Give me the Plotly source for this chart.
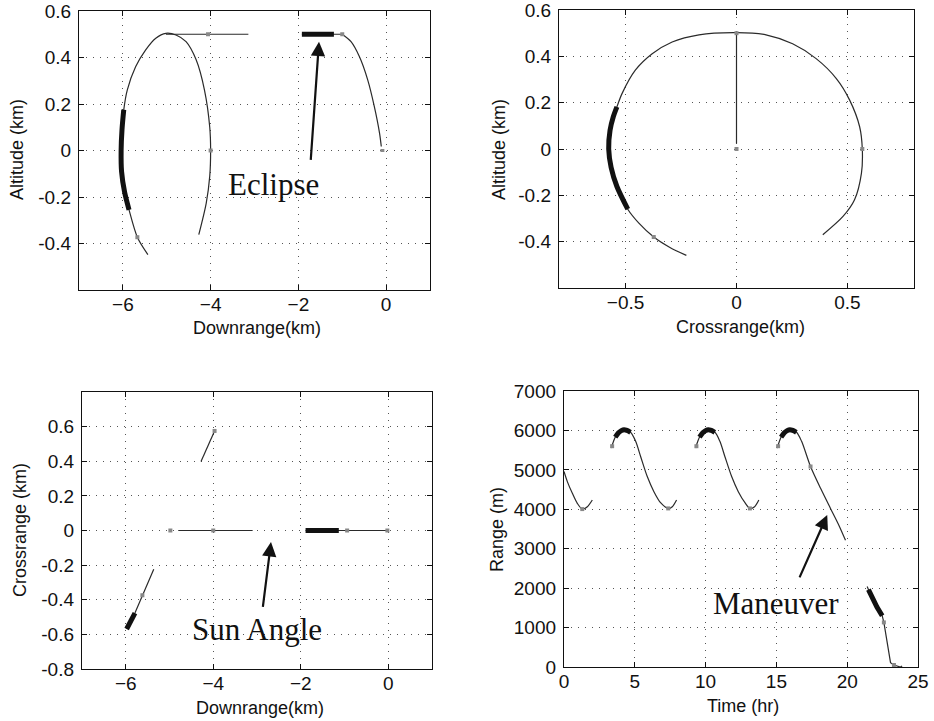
import plotly.graph_objects as go

# ---------------- data ----------------
# Panel 1: Downrange vs Altitude (km)
p1_ellipse_x = [-5.43, -5.67, -5.86, -5.96, -6.03, -6.04, -6.02, -5.98, -5.90, -5.71, -5.48, -5.25,
                -5.02, -4.79, -4.56, -4.33, -4.14, -4.02, -4.00, -4.02, -4.10, -4.27]
p1_ellipse_y = [-0.448, -0.373, -0.255, -0.18, -0.09, 0.0, 0.09, 0.175, 0.26, 0.36, 0.433, 0.483,
                0.504, 0.497, 0.468, 0.39, 0.26, 0.10, 0.0, -0.11, -0.226, -0.362]
p1_ellipse_thick_x = [-5.98, -6.02, -6.04, -6.03, -5.96, -5.86]
p1_ellipse_thick_y = [0.175, 0.09, 0.0, -0.09, -0.18, -0.255]
p1_hold_x = [-5.02, -3.14]
p1_hold_y = [0.5, 0.5]
p1_hold2_x = [-1.92, -1.0]
p1_hold2_y = [0.5, 0.5]
p1_eclipse_x = [-1.92, -1.19]
p1_eclipse_y = [0.5, 0.5]
p1_descent_x = [-1.0, -0.80, -0.61, -0.42, -0.27, -0.15, -0.11]
p1_descent_y = [0.5, 0.468, 0.404, 0.304, 0.19, 0.075, 0.017]
p1_dock_x = [-0.13, -0.04]
p1_dock_y = [0.0, 0.0]
p1_mark_x = [-4.0, -4.06, -1.0, -5.67]
p1_mark_y = [0.0, 0.5, 0.5, -0.373]

# Panel 2: Crossrange vs Altitude (km)
p2_loop_x = [-0.226, -0.30, -0.373, -0.44, -0.49, -0.539, -0.565, -0.576, -0.57, -0.555, -0.539,
             -0.516, -0.456, -0.38, -0.29, -0.169, 0.0, 0.133, 0.253, 0.359, 0.45, 0.51, 0.555,
             0.567, 0.563, 0.532, 0.48, 0.389]
p2_loop_y = [-0.459, -0.425, -0.38, -0.32, -0.26, -0.162, -0.08, 0.0, 0.08, 0.14, 0.182,
             0.239, 0.34, 0.411, 0.462, 0.493, 0.502, 0.493, 0.454, 0.39, 0.304, 0.211, 0.096,
             0.0, -0.105, -0.219, -0.291, -0.37]
p2_thick_x = [-0.539, -0.555, -0.57, -0.576, -0.565, -0.539, -0.49]
p2_thick_y = [0.182, 0.14, 0.08, 0.0, -0.08, -0.162, -0.26]
p2_vert_x = [0.0, 0.0]
p2_vert_y = [0.502, 0.024]
p2_mark_x = [0.0, 0.0, 0.567, -0.373]
p2_mark_y = [0.0, 0.5, 0.0, -0.38]

# Panel 3: Downrange vs Crossrange (km)
p3_upper_x = [-4.28, -3.97]
p3_upper_y = [0.399, 0.575]
p3_center_x = [-4.80, -3.10]
p3_center_y = [0.0, 0.0]
p3_right_x = [-1.89, 0.0]
p3_right_y = [0.0, 0.0]
p3_right_thick_x = [-1.89, -1.13]
p3_right_thick_y = [0.0, 0.0]
p3_lower_x = [-5.36, -5.62, -5.79, -5.98]
p3_lower_y = [-0.224, -0.374, -0.477, -0.569]
p3_lower_thick_x = [-5.79, -5.98]
p3_lower_thick_y = [-0.477, -0.569]
p3_mark_x = [-4.98, -4.0, -0.94, -0.02, -3.97, -5.62]
p3_mark_y = [0.0, 0.0, 0.0, 0.0, 0.575, -0.374]

# Panel 4: Time (hr) vs Range (m)
p4_c1_t = [0.0, 0.235, 0.59, 0.94, 1.29, 1.65, 2.0]
p4_c1_r = [4958, 4702, 4405, 4150, 4005, 4065, 4235]
p4_c2_t = [3.34, 3.65, 4.0, 4.24, 4.7, 5.06, 5.41, 5.88, 6.35, 6.82, 7.36, 7.65, 7.95]
p4_c2_r = [5553, 5850, 5978, 6020, 5952, 5723, 5340, 4830, 4447, 4167, 4022, 4065, 4235]
p4_c3_t = [9.29, 9.6, 9.95, 10.19, 10.66, 11.01, 11.36, 11.84, 12.31, 12.78, 13.13, 13.46, 13.76]
p4_c3_r = [5553, 5850, 5978, 6020, 5952, 5723, 5340, 4830, 4447, 4167, 4022, 4065, 4235]
p4_c4_t = [15.06, 15.36, 15.72, 15.95, 16.42, 16.78, 17.41, 18.12, 18.82, 19.41, 19.88]
p4_c4_r = [5553, 5850, 5978, 6020, 5952, 5723, 5085, 4532, 4022, 3597, 3214]
p4_c2_thick_t = [3.62, 3.85, 4.05, 4.24, 4.45, 4.7]
p4_c2_thick_r = [5830, 5940, 5995, 6020, 6000, 5952]
p4_c3_thick_t = [9.57, 9.8, 10.0, 10.19, 10.4, 10.65]
p4_c3_thick_r = [5830, 5940, 5995, 6020, 6000, 5952]
p4_c4_thick_t = [15.33, 15.56, 15.76, 15.95, 16.16, 16.41]
p4_c4_thick_r = [5830, 5940, 5995, 6020, 6000, 5952]
p4_c5_t = [21.41, 21.8, 22.1, 22.47, 22.59, 23.06, 23.29, 23.76, 23.88]
p4_c5_r = [2041, 1700, 1520, 1301, 1131, 111, 51, 0, 26]
p4_c5_thick_t = [21.5, 21.8, 22.1, 22.47]
p4_c5_thick_r = [1960, 1700, 1520, 1301]
p4_mark_t = [3.4, 9.35, 15.12, 22.59, 23.3, 1.29, 7.36, 13.13, 17.41]
p4_mark_r = [5600, 5600, 5600, 1131, 51, 4005, 4022, 4022, 5085]

# tick labels
p1_xticks = [-6, -4, -2, 0]
p1_yticks = [-0.4, -0.2, 0, 0.2, 0.4, 0.6]
p2_xticks = [-0.5, 0, 0.5]
p2_yticks = [-0.4, -0.2, 0, 0.2, 0.4, 0.6]
p3_xticks = [-6, -4, -2, 0]
p3_yticks = [-0.8, -0.6, -0.4, -0.2, 0, 0.2, 0.4, 0.6]
p4_xticks = [0, 5, 10, 15, 20, 25]
p4_yticks = [0, 1000, 2000, 3000, 4000, 5000, 6000, 7000]

# ---------------- figure ----------------
W, H = 934, 721
fig = go.Figure()

THIN = dict(color="#2a2a2a", width=1.2)
THICK = dict(color="#111111", width=5)
MARK = dict(color="#888888", size=4, symbol="square")


def add_line(x, y, xa, ya, line, smooth=False):
    ln = dict(line, shape="spline", smoothing=0.8) if smooth else line
    fig.add_trace(go.Scatter(x=x, y=y, mode="lines", line=ln, xaxis=xa, yaxis=ya,
                             showlegend=False, hoverinfo="skip"))


def add_marks(x, y, xa, ya):
    fig.add_trace(go.Scatter(x=x, y=y, mode="markers", marker=MARK, xaxis=xa, yaxis=ya,
                             showlegend=False, hoverinfo="skip"))


# panel 1
add_line(p1_ellipse_x, p1_ellipse_y, "x", "y", THIN, True)
add_line(p1_ellipse_thick_x, p1_ellipse_thick_y, "x", "y", THICK, True)
add_line(p1_hold_x, p1_hold_y, "x", "y", THIN)
add_line(p1_hold2_x, p1_hold2_y, "x", "y", THIN)
add_line(p1_eclipse_x, p1_eclipse_y, "x", "y", THICK)
add_line(p1_descent_x, p1_descent_y, "x", "y", THIN, True)
add_line(p1_dock_x, p1_dock_y, "x", "y", dict(color="#888888", width=3))
add_marks(p1_mark_x, p1_mark_y, "x", "y")

# panel 2
add_line(p2_loop_x, p2_loop_y, "x2", "y2", THIN, True)
add_line(p2_thick_x, p2_thick_y, "x2", "y2", THICK, True)
add_line(p2_vert_x, p2_vert_y, "x2", "y2", THIN)
add_marks(p2_mark_x, p2_mark_y, "x2", "y2")

# panel 3
add_line(p3_upper_x, p3_upper_y, "x3", "y3", THIN)
add_line(p3_center_x, p3_center_y, "x3", "y3", THIN)
add_line(p3_right_x, p3_right_y, "x3", "y3", THIN)
add_line(p3_right_thick_x, p3_right_thick_y, "x3", "y3", THICK)
add_line(p3_lower_x, p3_lower_y, "x3", "y3", THIN)
add_line(p3_lower_thick_x, p3_lower_thick_y, "x3", "y3", THICK)
add_marks(p3_mark_x, p3_mark_y, "x3", "y3")

# panel 4
for t, r in [(p4_c1_t, p4_c1_r), (p4_c2_t, p4_c2_r), (p4_c3_t, p4_c3_r), (p4_c4_t, p4_c4_r)]:
    add_line(t, r, "x4", "y4", THIN, True)
add_line(p4_c5_t, p4_c5_r, "x4", "y4", THIN)
for t, r in [(p4_c2_thick_t, p4_c2_thick_r), (p4_c3_thick_t, p4_c3_thick_r),
             (p4_c4_thick_t, p4_c4_thick_r)]:
    add_line(t, r, "x4", "y4", THICK, True)
add_line(p4_c5_thick_t, p4_c5_thick_r, "x4", "y4", THICK)
add_marks(p4_mark_t, p4_mark_r, "x4", "y4")


def px_dom_x(a, b):
    return [a / W, b / W]


def px_dom_y(top, bottom):
    return [1 - bottom / H, 1 - top / H]


TICKFONT = dict(family="Liberation Sans, Arial, sans-serif", size=19, color="#111111")
AX = dict(showline=True, linecolor="#111111", linewidth=1.3, mirror="ticks",
          ticks="inside", ticklen=5, tickcolor="#111111", tickwidth=1,
          showgrid=True, gridcolor="#555555", gridwidth=1, griddash="1px,6px",
          zeroline=False, tickfont=TICKFONT, tickmode="array",
          automargin=False, ticklabeloverflow="allow")
XAX = dict(AX, ticklabelstandoff=-3)
YAX = dict(AX, ticklabelstandoff=3)

layout = dict(
    width=W, height=H, margin=dict(l=0, r=0, t=0, b=0, autoexpand=False),
    paper_bgcolor="white", plot_bgcolor="white", showlegend=False,
    xaxis=dict(XAX, domain=px_dom_x(79, 430), range=[-7, 1], tickvals=p1_xticks, anchor="y"),
    yaxis=dict(YAX, domain=px_dom_y(11, 290), range=[-0.6, 0.6], tickvals=p1_yticks, anchor="x",
               ticktext=[f"{v:g}" for v in p1_yticks]),
    xaxis2=dict(XAX, domain=px_dom_x(559, 914), range=[-0.8, 0.8], tickvals=p2_xticks, anchor="y2"),
    yaxis2=dict(YAX, domain=px_dom_y(10, 288), range=[-0.6, 0.6], tickvals=p2_yticks, anchor="x2",
                ticktext=[f"{v:g}" for v in p2_yticks]),
    xaxis3=dict(XAX, domain=px_dom_x(82, 432), range=[-7, 1], tickvals=p3_xticks, anchor="y3"),
    yaxis3=dict(YAX, domain=px_dom_y(392, 669), range=[-0.8, 0.8], tickvals=p3_yticks, anchor="x3",
                ticktext=[f"{v:g}" for v in p3_yticks]),
    xaxis4=dict(XAX, domain=px_dom_x(564, 918), range=[0, 25], tickvals=p4_xticks, anchor="y4"),
    yaxis4=dict(YAX, domain=px_dom_y(391, 667), range=[0, 7000], tickvals=p4_yticks, anchor="x4"),
)
fig.update_layout(**layout)

TITLEFONT = dict(family="Liberation Sans, Arial, sans-serif", size=18, color="#111111")
SERIF = dict(family="Liberation Serif, Times New Roman, serif", size=31, color="#111111")


def paper_text(text, px, py, angle=0):
    fig.add_annotation(text=text, x=px / W, y=1 - py / H, xref="paper", yref="paper",
                       showarrow=False, font=TITLEFONT, textangle=angle,
                       xanchor="center", yanchor="middle")


paper_text("Downrange(km)", 257, 328)
paper_text("Altitude (km)", 17, 150, -90)
paper_text("Crossrange(km)", 740, 327)
paper_text("Altitude (km)", 499, 150, -90)
paper_text("Downrange(km)", 260, 708)
paper_text("Crossrange (km)", 20, 530, -90)
paper_text("Time (hr)", 743, 706)
paper_text("Range (m)", 497, 530, -90)

# callouts
fig.add_annotation(text="Eclipse", x=-2.57, y=-0.145, xref="x", yref="y", showarrow=False, font=SERIF)
fig.add_annotation(x=-1.53, y=0.468, ax=-1.72, ay=-0.047, xref="x", yref="y", axref="x", ayref="y",
                   text="", showarrow=True, arrowhead=2, arrowsize=1.3, arrowwidth=2.2, arrowcolor="#111111")

fig.add_annotation(text="Sun Angle", x=-3.0, y=-0.571, xref="x3", yref="y3", showarrow=False, font=SERIF)
fig.add_annotation(x=-2.68, y=-0.067, ax=-2.87, ay=-0.45, xref="x3", yref="y3", axref="x3", ayref="y3",
                   text="", showarrow=True, arrowhead=2, arrowsize=1.3, arrowwidth=2.2, arrowcolor="#111111")

fig.add_annotation(text="Maneuver", x=14.94, y=1620, xref="x4", yref="y4", showarrow=False, font=SERIF)
fig.add_annotation(x=18.59, y=3852, ax=16.59, ay=2236, xref="x4", yref="y4", axref="x4", ayref="y4",
                   text="", showarrow=True, arrowhead=2, arrowsize=1.3, arrowwidth=2.2, arrowcolor="#111111")

fig.write_html("out.html", config={"displayModeBar": False},
               post_script="document.body.style.margin='0px';")
